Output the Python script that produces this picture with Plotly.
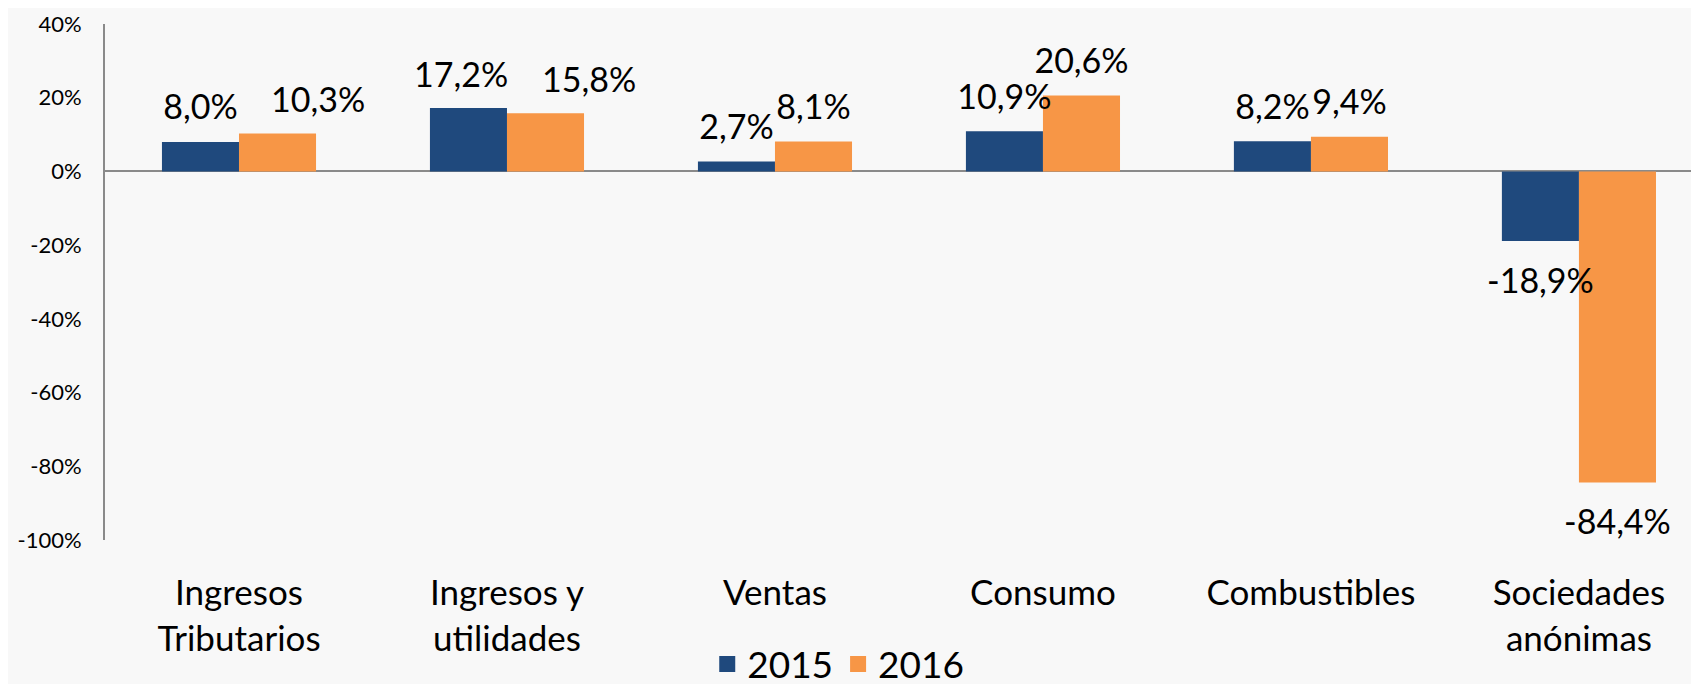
import plotly.graph_objects as go

categories = ["Ingresos<br>Tributarios", "Ingresos y<br>utilidades", "Ventas", "Consumo",
              "Combustibles", "Sociedades<br>anónimas"]
values_2015 = [0.080, 0.172, 0.027, 0.109, 0.082, -0.189]
values_2016 = [0.103, 0.158, 0.081, 0.206, 0.094, -0.844]
series_names = ["2015", "2016"]
tick_vals = [0.4, 0.2, 0.0, -0.2, -0.4, -0.6, -0.8, -1.0]
tick_text = ["40%", "20%", "0%", "-20%", "-40%", "-60%", "-80%", "-100%"]

colors = ["#1F497D", "#F79646"]
FONT = "Lato"
LABEL_SIZE = 34
GAP = 0.425

# layout geometry (pixels)
W, H = 1691, 676
ML, MR, MT, MB = 97, 0, 16, 144
X_MAX = 5.448

# manually moved data labels in the original (series index, category index) -> x nudge in px
LABEL_NUDGE = {(0, 1): -7, (1, 0): 40, (1, 1): 43}


def fmt(v):
    return f"{v*100:.1f}".replace(".", ",") + "%"


fig = go.Figure()
all_series = [values_2015, values_2016]

# bars
for name, vals, col in zip(series_names, all_series, colors):
    fig.add_trace(go.Bar(
        x=categories, y=vals, name=name,
        marker=dict(color=col, line=dict(width=0)),
        showlegend=False, hoverinfo="skip",
    ))

# data labels (grouped scatter text aligned with bars)
for si, (name, vals) in enumerate(zip(series_names, all_series)):
    fig.add_trace(go.Scatter(
        x=categories, y=vals, mode="markers+text",
        text=["" if (si, ci) in LABEL_NUDGE else fmt(v) for ci, v in enumerate(vals)],
        textposition=["top center" if v >= 0 else "bottom center" for v in vals],
        textfont=dict(size=LABEL_SIZE, color="#000000", family=FONT),
        marker=dict(size=[21 if v >= 0 else 40 for v in vals], opacity=0),
        showlegend=False, hoverinfo="skip", cliponaxis=False,
    ))

# nudged labels as annotations
px_per_cat = (W - ML - MR) / (X_MAX + 0.5)
half_offset = px_per_cat * (1 - GAP) / 4
for (si, ci), dx in LABEL_NUDGE.items():
    v = all_series[si][ci]
    fig.add_annotation(
        x=categories[ci], y=v, xref="x", yref="y",
        text=fmt(v), showarrow=False,
        xshift=(-half_offset if si == 0 else half_offset) + dx,
        yshift=12, yanchor="bottom",
        font=dict(size=LABEL_SIZE, color="#000000", family=FONT),
    )

# legend entries (on a hidden overlay axis so they don't affect grouping)
for name, col in zip(series_names, colors):
    fig.add_trace(go.Scatter(
        x=[None], y=[None], mode="markers", name=name,
        marker=dict(symbol="square", size=24, color=col),
        xaxis="x2", yaxis="y2",
    ))

fig.update_layout(
    width=W, height=H,
    barmode="group",
    bargap=GAP, bargroupgap=0,
    scattermode="group", scattergap=GAP,
    paper_bgcolor="#f8f8f8",
    plot_bgcolor="rgba(0,0,0,0)",
    margin=dict(l=ML, r=MR, t=MT, b=MB, autoexpand=False),
    font=dict(family=FONT, color="#000000"),
    legend=dict(orientation="h", x=0.46, xanchor="center", y=-0.241, yanchor="middle",
                font=dict(size=37, family=FONT), bgcolor="rgba(0,0,0,0)",
                itemsizing="trace", itemwidth=30, tracegroupgap=0),
    xaxis=dict(
        range=[-0.5, X_MAX], automargin=False,
        showgrid=False, showline=False, zeroline=False, ticks="",
        tickfont=dict(size=35, family=FONT),
        ticklabelstandoff=29,
    ),
    yaxis=dict(
        range=[-1.0, 0.4], automargin=False,
        tickvals=tick_vals, ticktext=tick_text,
        showgrid=False, showline=True, linecolor="#8a8a8a", linewidth=2,
        zeroline=True, zerolinecolor="#8a8a8a", zerolinewidth=2,
        ticks="", tickfont=dict(size=22, family=FONT),
        ticklabelstandoff=17,
    ),
    xaxis2=dict(overlaying="x", visible=False, range=[0, 1]),
    yaxis2=dict(overlaying="y", visible=False, range=[0, 1]),
)

fig.write_html("out.html")
